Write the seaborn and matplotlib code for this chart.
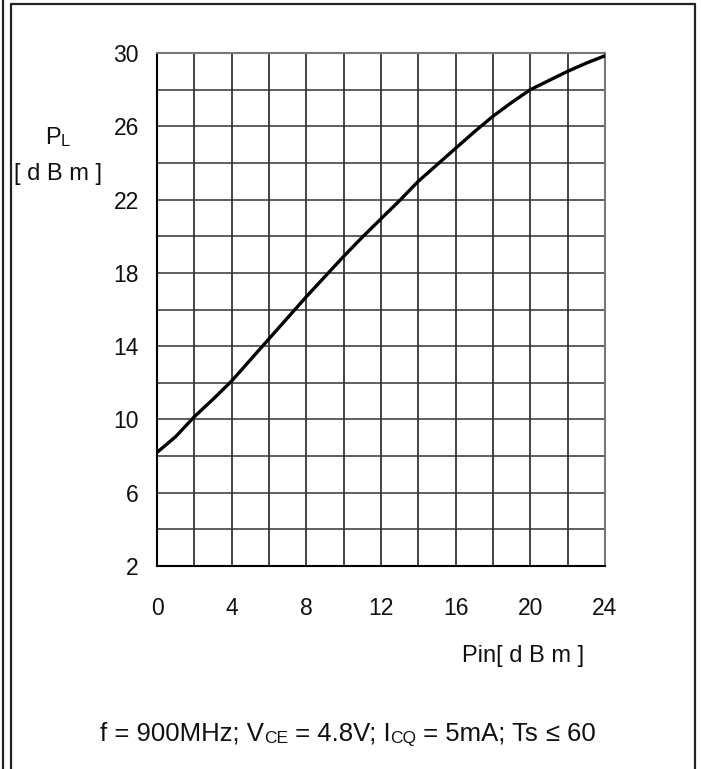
import matplotlib
matplotlib.use("Agg")
import matplotlib.pyplot as plt
from matplotlib.lines import Line2D
import seaborn as sns
import pandas as pd

# ---- data ----
pin_dbm = [0, 1, 2, 3, 4, 5, 6, 7, 8, 9, 10, 11, 12, 13, 14, 15, 16, 17, 18, 19, 20, 21, 22, 23, 24]
pl_dbm = [8.2, 9.06, 10.15, 11.1, 12.1, 13.25, 14.4, 15.55, 16.7, 17.8, 18.9, 19.95, 20.95,
          21.95, 23.0, 23.9, 24.8, 25.7, 26.55, 27.3, 28.0, 28.5, 29.0, 29.45, 29.85]
x_ticks = [0, 4, 8, 12, 16, 20, 24]
y_ticks = [2, 6, 10, 14, 18, 22, 26, 30]
x_grid = list(range(0, 25, 2))
y_grid = list(range(2, 31, 2))

df = pd.DataFrame({"Pin": pin_dbm, "PL": pl_dbm})

sns.set_style("white")
plt.rcParams["font.family"] = ["Liberation Sans", "DejaVu Sans"]

W, H = 701, 769
fig = plt.figure(figsize=(W / 100, H / 100), dpi=100)
ax = fig.add_axes([157 / W, 1 - 566 / H, (605 - 157) / W, (566 - 53) / H])

# grid
for gx in x_grid:
    ax.axvline(gx, color="#111111", lw=1.1, zorder=1)
for gy in y_grid:
    ax.axhline(gy, color="#333333", lw=1.1, zorder=1)

sns.lineplot(data=df, x="Pin", y="PL", ax=ax, color="black", lw=2.4, zorder=3)

ax.set_xlim(0, 24)
ax.set_ylim(2, 30)
ax.set_xticks(x_ticks)
ax.set_yticks(y_ticks)
ax.set_xticklabels([str(v) for v in x_ticks])
ax.set_yticklabels([str(v) for v in y_ticks])
ax.tick_params(axis="x", length=0, pad=22, labelsize=16.5, colors="#111111")
ax.tick_params(axis="y", length=0, pad=13, labelsize=16.5, colors="#111111")
ax.set_xlabel("")
ax.set_ylabel("")
for side in ["left", "bottom"]:
    ax.spines[side].set_color("black")
    ax.spines[side].set_linewidth(1.5)
for side in ["right", "top"]:
    ax.spines[side].set_color("#777777")
    ax.spines[side].set_linewidth(1.5)


def fx(px):
    return px / W


def fy(py):
    return 1 - py / H


# axis labels
fig.text(fx(462), fy(656), "Pin[ d B m ]", fontsize=17, ha="left", va="center", color="#111111")
fig.text(fx(45), fy(138), "P", fontsize=17, ha="left", va="center", color="#111111")
fig.text(fx(61), fy(141), "L", fontsize=12, ha="left", va="center", color="#111111")
fig.text(fx(58), fy(174), "[ d B m ]", fontsize=17, ha="center", va="center", color="#111111")

# bottom caption built from chained pieces
pieces = [("f = 900MHz; V", 18.5), ("CE", 12.5), (" = 4.8V; I", 18.5), ("CQ", 12.5),
          (" = 5mA; Ts ", 18.5), ("≤", 18.5), (" 60", 18.5)]
chain = fig.text(fx(100), fy(741), pieces[0][0], fontsize=pieces[0][1], ha="left",
                 va="baseline", color="#111111")
for txt, fs in pieces[1:]:
    chain = ax.annotate(txt, xy=(1, 0), xycoords=chain, xytext=(0, 0),
                        textcoords="offset points", fontsize=fs, ha="left",
                        va="bottom", color="#111111", annotation_clip=False)

# frame lines
frame = [((3, 3), (0, H)), ((11, 11), (4, H)), ((11, 695), (4, 4)), ((695, 695), (4, H))]
for xs, ys in frame:
    fig.add_artist(Line2D([fx(v) for v in xs], [fy(v) for v in ys],
                          color="#222222", lw=1.6, transform=fig.transFigure))

fig.savefig("out.png", dpi=100)
